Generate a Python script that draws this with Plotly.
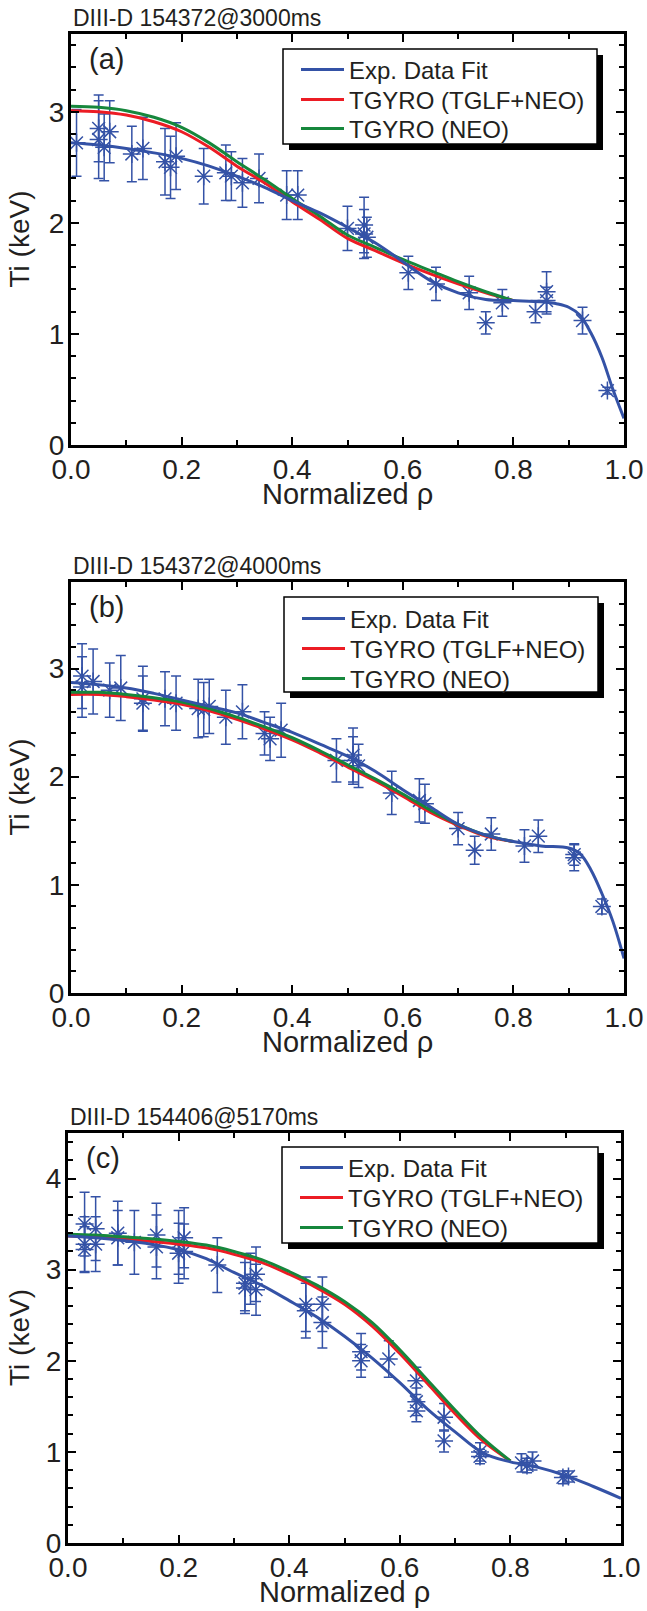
import plotly.graph_objects as go

W, H = 647, 1611
FONT = "Liberation Sans, Arial, sans-serif"
BLUE = "#3452a6"
RED = "#ec1c24"
GREEN = "#16873c"
TXT = "#231f20"

# ---------------- data ----------------
# panel (a)  DIII-D 154372@3000ms
a_fit_x = [0, 0.05, 0.1, 0.15, 0.2, 0.25, 0.3, 0.35, 0.4, 0.45, 0.5, 0.55, 0.6, 0.65, 0.7, 0.75, 0.8, 0.85, 0.88, 0.9, 0.92, 0.94, 0.96, 0.98, 1.0]
a_fit_y = [2.72, 2.70, 2.67, 2.63, 2.58, 2.51, 2.42, 2.32, 2.20, 2.09, 1.96, 1.82, 1.65, 1.48, 1.37, 1.31, 1.30, 1.29, 1.27, 1.24, 1.17, 1.01, 0.79, 0.50, 0.24]
a_mod_x = [0, 0.05, 0.1, 0.15, 0.2, 0.25, 0.3, 0.35, 0.4, 0.45, 0.5, 0.55, 0.6, 0.65, 0.7, 0.75, 0.8]
a_tglf_y = [3.01, 3.00, 2.97, 2.91, 2.82, 2.68, 2.51, 2.36, 2.19, 2.03, 1.86, 1.75, 1.64, 1.54, 1.45, 1.37, 1.30]
a_neo_y = [3.05, 3.04, 3.01, 2.95, 2.86, 2.72, 2.55, 2.39, 2.22, 2.06, 1.89, 1.78, 1.67, 1.57, 1.47, 1.38, 1.30]
a_pts_x = [0.01, 0.05, 0.05, 0.06, 0.07, 0.11, 0.13, 0.17, 0.18, 0.19, 0.24, 0.28, 0.29, 0.31, 0.34, 0.39, 0.41, 0.50, 0.53, 0.53, 0.535, 0.61, 0.66, 0.72, 0.75, 0.78, 0.84, 0.86, 0.86, 0.925, 0.97]
a_pts_y = [2.72, 2.85, 2.75, 2.68, 2.82, 2.62, 2.67, 2.55, 2.50, 2.60, 2.42, 2.45, 2.42, 2.36, 2.40, 2.25, 2.25, 1.95, 1.98, 1.90, 1.87, 1.55, 1.45, 1.37, 1.10, 1.28, 1.20, 1.38, 1.30, 1.12, 0.49]
a_pts_e = [0.30, 0.30, 0.35, 0.30, 0.28, 0.25, 0.28, 0.30, 0.28, 0.30, 0.25, 0.25, 0.22, 0.22, 0.22, 0.22, 0.22, 0.20, 0.25, 0.22, 0.18, 0.15, 0.15, 0.15, 0.10, 0.12, 0.10, 0.18, 0.12, 0.12, 0.03]

# panel (b)  DIII-D 154372@4000ms
b_fit_x = [0, 0.05, 0.1, 0.15, 0.2, 0.25, 0.3, 0.35, 0.4, 0.45, 0.5, 0.55, 0.6, 0.65, 0.7, 0.75, 0.8, 0.85, 0.9, 0.92, 0.94, 0.96, 0.98, 1.0]
b_fit_y = [2.87, 2.85, 2.82, 2.77, 2.71, 2.65, 2.59, 2.50, 2.41, 2.30, 2.19, 2.05, 1.88, 1.72, 1.56, 1.46, 1.40, 1.36, 1.34, 1.29, 1.14, 0.92, 0.66, 0.32]
b_mod_x = [0, 0.05, 0.1, 0.15, 0.2, 0.25, 0.3, 0.35, 0.4, 0.45, 0.5, 0.55, 0.6, 0.65, 0.7, 0.75, 0.8]
b_tglf_y = [2.76, 2.76, 2.74, 2.71, 2.67, 2.61, 2.53, 2.44, 2.34, 2.22, 2.09, 1.96, 1.82, 1.67, 1.55, 1.45, 1.40]
b_neo_y = [2.78, 2.78, 2.76, 2.73, 2.69, 2.63, 2.55, 2.46, 2.36, 2.24, 2.11, 1.98, 1.84, 1.69, 1.56, 1.46, 1.40]
b_pts_x = [0.02, 0.02, 0.04, 0.07, 0.09, 0.13, 0.13, 0.17, 0.19, 0.23, 0.24, 0.25, 0.28, 0.31, 0.35, 0.36, 0.38, 0.48, 0.51, 0.51, 0.52, 0.58, 0.63, 0.64, 0.70, 0.73, 0.76, 0.82, 0.845, 0.91, 0.91, 0.96]
b_pts_y = [2.93, 2.83, 2.88, 2.80, 2.82, 2.72, 2.68, 2.72, 2.68, 2.63, 2.62, 2.65, 2.55, 2.60, 2.40, 2.35, 2.43, 2.15, 2.20, 2.15, 2.10, 1.85, 1.78, 1.75, 1.52, 1.32, 1.47, 1.36, 1.45, 1.25, 1.28, 0.80]
b_pts_e = [0.30, 0.28, 0.30, 0.25, 0.30, 0.30, 0.25, 0.25, 0.25, 0.27, 0.25, 0.25, 0.25, 0.25, 0.20, 0.20, 0.25, 0.20, 0.25, 0.22, 0.20, 0.20, 0.20, 0.18, 0.15, 0.13, 0.15, 0.15, 0.15, 0.12, 0.10, 0.07]

# panel (c)  DIII-D 154406@5170ms
c_fit_x = [0, 0.05, 0.1, 0.15, 0.2, 0.25, 0.3, 0.35, 0.4, 0.45, 0.5, 0.55, 0.6, 0.65, 0.7, 0.75, 0.8, 0.85, 0.9, 0.95, 1.0]
c_fit_y = [3.37, 3.35, 3.32, 3.28, 3.22, 3.12, 2.97, 2.83, 2.66, 2.48, 2.27, 2.03, 1.76, 1.47, 1.22, 0.99, 0.89, 0.83, 0.74, 0.62, 0.49]
c_mod_x = [0, 0.05, 0.1, 0.15, 0.2, 0.25, 0.3, 0.35, 0.4, 0.45, 0.5, 0.55, 0.6, 0.65, 0.7, 0.75, 0.8]
c_tglf_y = [3.37, 3.36, 3.34, 3.31, 3.28, 3.24, 3.17, 3.08, 2.95, 2.80, 2.62, 2.38, 2.08, 1.75, 1.42, 1.12, 0.90]
c_neo_y = [3.39, 3.38, 3.36, 3.34, 3.31, 3.27, 3.20, 3.11, 2.98, 2.83, 2.65, 2.42, 2.12, 1.79, 1.46, 1.15, 0.90]
c_pts_x = [0.03, 0.03, 0.03, 0.05, 0.05, 0.09, 0.09, 0.12, 0.16, 0.16, 0.20, 0.20, 0.21, 0.21, 0.27, 0.32, 0.32, 0.33, 0.34, 0.34, 0.43, 0.43, 0.46, 0.46, 0.53, 0.53, 0.58, 0.63, 0.63, 0.63, 0.68, 0.68, 0.745, 0.745, 0.82, 0.83, 0.84, 0.895, 0.905]
c_pts_y = [3.50, 3.28, 3.22, 3.45, 3.28, 3.40, 3.35, 3.30, 3.38, 3.25, 3.30, 3.18, 3.35, 3.20, 3.05, 2.85, 2.80, 2.90, 2.95, 2.78, 2.55, 2.62, 2.62, 2.42, 2.10, 2.00, 2.02, 1.78, 1.55, 1.45, 1.38, 1.12, 1.00, 0.95, 0.88, 0.85, 0.90, 0.72, 0.73]
c_pts_e = [0.35, 0.30, 0.25, 0.35, 0.30, 0.35, 0.30, 0.35, 0.35, 0.35, 0.35, 0.33, 0.33, 0.30, 0.30, 0.30, 0.28, 0.28, 0.30, 0.28, 0.30, 0.30, 0.30, 0.28, 0.20, 0.18, 0.20, 0.15, 0.15, 0.12, 0.15, 0.12, 0.10, 0.08, 0.10, 0.08, 0.10, 0.07, 0.06]

titles = ["DIII-D 154372@3000ms", "DIII-D 154372@4000ms", "DIII-D 154406@5170ms"]
tags = ["(a)", "(b)", "(c)"]
y_max = [3.7, 3.8, 4.5]
legend_names = ["Exp. Data Fit", "TGYRO (TGLF+NEO)", "TGYRO (NEO)"]

panels = [
    (a_fit_x, a_fit_y, a_mod_x, a_tglf_y, a_neo_y, a_pts_x, a_pts_y, a_pts_e),
    (b_fit_x, b_fit_y, b_mod_x, b_tglf_y, b_neo_y, b_pts_x, b_pts_y, b_pts_e),
    (c_fit_x, c_fit_y, c_mod_x, c_tglf_y, c_neo_y, c_pts_x, c_pts_y, c_pts_e),
]

# ---------------- layout geometry (pixels) ----------------
frames = [  # left, right, top, bottom
    (71, 624, 34, 445),
    (71, 624, 582, 993),
    (68, 621, 1133, 1543),
]
boxes = [  # legend box left, top, right, bottom
    (283, 49, 597, 144),
    (284, 597, 598, 692),
    (282, 1147, 598, 1243),
]
entry_rows = [  # vertical centre of each legend entry
    (70, 100, 129),
    (619, 649, 679),
    (1168, 1198, 1228),
]


def px(x):
    return x / W


def py(y):
    return 1 - y / H


fig = go.Figure()
shapes = []
annotations = []
lay = {}

for i, (fx, fy, mx, ty, ny, ptx, pty, pte) in enumerate(panels):
    k = "" if i == 0 else str(i + 1)
    xa, ya = "x" + k, "y" + k
    legs = []
    for j in range(3):
        idx = i * 3 + j
        legs.append("legend" if idx == 0 else "legend%d" % (idx + 1))

    fig.add_trace(go.Scatter(
        x=ptx, y=pty, mode="markers", xaxis=xa, yaxis=ya, showlegend=False,
        marker=dict(symbol="asterisk-open", size=15, color=BLUE, line=dict(color=BLUE, width=1.5)),
        error_y=dict(type="data", array=pte, visible=True, color=BLUE, thickness=1.5, width=5),
    ))
    fig.add_trace(go.Scatter(x=mx, y=ty, mode="lines", name=legend_names[1], legend=legs[1],
                             xaxis=xa, yaxis=ya, line=dict(color=RED, width=3, shape="spline")))
    fig.add_trace(go.Scatter(x=mx, y=ny, mode="lines", name=legend_names[2], legend=legs[2],
                             xaxis=xa, yaxis=ya, line=dict(color=GREEN, width=3, shape="spline")))
    fig.add_trace(go.Scatter(x=fx, y=fy, mode="lines", name=legend_names[0], legend=legs[0],
                             xaxis=xa, yaxis=ya, line=dict(color=BLUE, width=3, shape="spline")))

    l, r, t, b = frames[i]
    common = dict(showline=True, linecolor="black", linewidth=3, mirror="allticks",
                  ticks="inside", ticklen=8, tickwidth=2, tickcolor="black",
                  showgrid=False, zeroline=False, automargin=False,
                  tickfont=dict(size=28, family=FONT, color=TXT))
    lay["xaxis" + k] = dict(common, domain=[px(l), px(r)], range=[0, 1], anchor=ya,
                            tick0=0, dtick=0.2, tickformat=".1f",
                            minor=dict(ticks="inside", ticklen=5, tickwidth=2, tickcolor="black", dtick=0.1),
                            ticklabelstandoff=-3)
    lay["yaxis" + k] = dict(common, domain=[py(b), py(t)], range=[0, y_max[i]], anchor=xa,
                            tick0=0, dtick=1,
                            minor=dict(ticks="inside", ticklen=5, tickwidth=2, tickcolor="black", dtick=0.2),
                            ticklabelstandoff=-2)

    # legend box with shadow
    bl, bt, br, bb = boxes[i]
    shapes.append(dict(type="rect", xref="paper", yref="paper", layer="above",
                       x0=px(bl + 6), x1=px(br + 6), y0=py(bb + 6), y1=py(bt + 6),
                       fillcolor="black", line=dict(width=0)))
    shapes.append(dict(type="rect", xref="paper", yref="paper", layer="above",
                       x0=px(bl), x1=px(br), y0=py(bb), y1=py(bt),
                       fillcolor="white", line=dict(color="black", width=1.5)))
    for j in range(3):
        lay[legs[j]] = dict(x=px(bl + 13), y=py(entry_rows[i][j]), xanchor="left", yanchor="middle",
                            bgcolor="rgba(0,0,0,0)", borderwidth=0,
                            font=dict(size=24, family=FONT, color=TXT),
                            itemwidth=43)

    # texts
    annotations.append(dict(text=titles[i], xref="paper", yref="paper", x=px(l), y=py(t - 16),
                            xanchor="left", yanchor="middle", showarrow=False,
                            font=dict(size=23, family=FONT, color=TXT)))
    annotations.append(dict(text=tags[i], xref="paper", yref="paper", x=px(l + 16), y=py(t + 25),
                            xanchor="left", yanchor="middle", showarrow=False,
                            font=dict(size=29, family=FONT, color=TXT)))
    annotations.append(dict(text="Normalized ρ", xref="paper", yref="paper", x=px((l + r) / 2), y=py(b + 49),
                            xanchor="center", yanchor="middle", showarrow=False,
                            font=dict(size=29, family=FONT, color=TXT)))
    annotations.append(dict(text="Ti (keV)", xref="paper", yref="paper", x=px(19), y=py((t + b) / 2),
                            xanchor="center", yanchor="middle", showarrow=False, textangle=-90,
                            font=dict(size=28, family=FONT, color=TXT)))

fig.update_layout(
    width=W, height=H, margin=dict(l=0, r=0, t=0, b=0, autoexpand=False),
    paper_bgcolor="white", plot_bgcolor="white",
    shapes=shapes, annotations=annotations,
    **lay,
)

fig.write_html("out.html")
